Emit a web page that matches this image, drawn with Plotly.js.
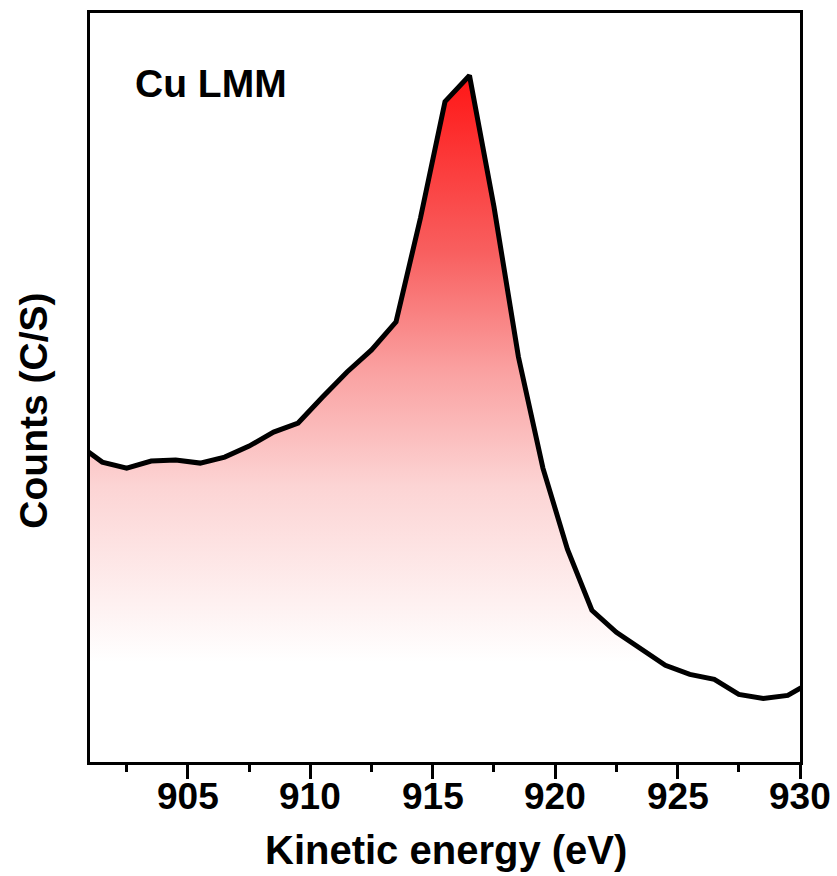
<!DOCTYPE html>
<html>
<head>
<meta charset="utf-8">
<script src="https://cdn.plot.ly/plotly-3.0.1.min.js"></script>
<style>html,body{margin:0;padding:0;background:#fff;}#chart{width:837px;height:876px;}</style>
</head>
<body>
<div id="chart"></div>
<script>
// Kinetic energy (eV)
const energy = [900.5, 901.5, 902.5, 903.5, 904.5, 905.5, 906.5, 907.5, 908.5, 909.5,
  910.5, 911.5, 912.5, 913.5, 914.5, 915.5, 916.5, 917.5, 918.5, 919.5,
  920.5, 921.5, 922.5, 923.5, 924.5, 925.5, 926.5, 927.5, 928.5, 929.5, 930.5];
// Counts (C/S)
const counts = [20875, 19975, 19675, 20025, 20075, 19925, 20225, 20775, 21475, 21925,
  23225, 24475, 25575, 26975, 32175, 37975, 39275, 32725, 25225, 19675,
  15625, 12575, 11475, 10675, 9825, 9375, 9125, 8375, 8175, 8325, 9025];
const xTickVals = [905, 910, 915, 920, 925, 930];
const xTickText = ['905', '910', '915', '920', '925', '930'];
const label = 'Cu LMM';
const yTitle = 'Counts (C/S)';
const xTitle = 'Kinetic energy (eV)';

const FONT = 'Arial, "Liberation Sans", sans-serif';

const trace = {
  x: energy,
  y: counts,
  type: 'scatter',
  mode: 'lines',
  line: {color: '#000000', width: 5, shape: 'linear'},
  fill: 'tozeroy',
  fillgradient: {
    type: 'vertical',
    start: 10000,
    stop: 39275,
    colorscale: [[0, 'rgb(255,255,255)'], [0.3, 'rgb(252,212,212)'], [0.5, 'rgb(250,160,160)'],
                 [0.7, 'rgb(248,95,95)'], [1, 'rgb(255,22,22)']]
  },
  hoverinfo: 'skip'
};

const tickAnnotations = xTickVals.map((v, i) => ({
  text: xTickText[i],
  xref: 'x', yref: 'paper',
  x: v, y: -0.0461,
  xanchor: 'center', yanchor: 'middle',
  showarrow: false,
  font: {family: FONT, size: 37, color: '#000', weight: 'bold'}
}));

const layout = {
  width: 837,
  height: 876,
  margin: {l: 90, r: 37, t: 13, b: 114},
  paper_bgcolor: '#ffffff',
  plot_bgcolor: '#ffffff',
  showlegend: false,
  xaxis: {
    range: [901, 930],
    tickvals: xTickVals,
    ticktext: xTickText,
    showticklabels: false,
    ticks: 'outside',
    ticklen: 14,
    tickwidth: 3,
    tickcolor: '#000',
    minor: {ticks: 'outside', ticklen: 7, tickwidth: 3, tickcolor: '#000', dtick: 2.5, tick0: 902.5},
    showline: true,
    linecolor: '#000',
    linewidth: 3,
    mirror: true,
    showgrid: false,
    zeroline: false
  },
  yaxis: {
    range: [5000, 42400],
    showticklabels: false,
    ticks: '',
    showline: true,
    linecolor: '#000',
    linewidth: 3,
    mirror: true,
    showgrid: false,
    zeroline: false
  },
  annotations: tickAnnotations.concat([{
    text: label,
    xref: 'paper', yref: 'paper',
    x: 0.061, y: 0.906,
    xanchor: 'left', yanchor: 'middle',
    showarrow: false,
    font: {family: FONT, size: 39, color: '#000', weight: 'bold'}
  }, {
    text: xTitle,
    xref: 'paper', yref: 'paper',
    x: 0.502, y: -0.1177,
    xanchor: 'center', yanchor: 'middle',
    showarrow: false,
    font: {family: FONT, size: 40, color: '#000', weight: 'bold'}
  }, {
    text: yTitle,
    xref: 'paper', yref: 'paper',
    x: -0.079, y: 0.469,
    xanchor: 'center', yanchor: 'middle',
    textangle: -90,
    showarrow: false,
    font: {family: FONT, size: 39, color: '#000', weight: 'bold'}
  }])
};

Plotly.newPlot('chart', [trace], layout, {staticPlot: true, displayModeBar: false});
</script>
</body>
</html>
